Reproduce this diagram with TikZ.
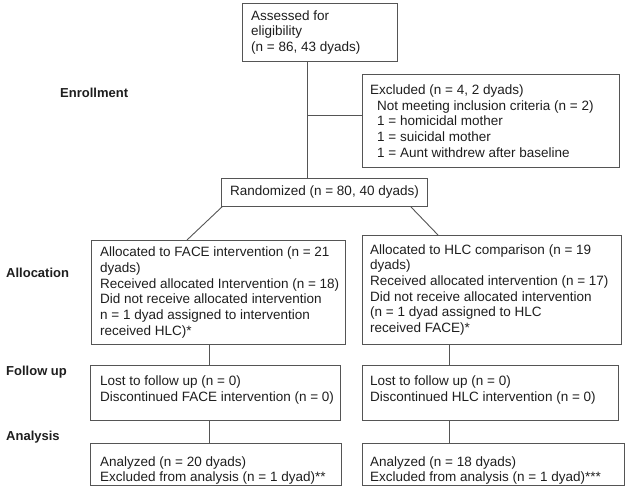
\documentclass[tikz,border=0pt]{standalone}
\usepackage{fontspec}
\setmainfont{Liberation Sans}
\definecolor{linec}{RGB}{85,85,85}
\definecolor{txtc}{RGB}{30,30,30}
\begin{document}
\begin{tikzpicture}[x=1pt,y=1pt,
  box/.style={draw=linec,line width=0.9pt,rectangle,inner sep=0pt,anchor=north west},
  txt/.style={anchor=west,align=left,inner sep=0pt,text=txtc,font=\fontsize{13.5}{15.7}\selectfont},
  ctxt/.style={anchor=center,align=center,inner sep=0pt,text=txtc,font=\fontsize{13.5}{15.7}\selectfont},
  lab/.style={anchor=west,inner sep=0pt,text=txtc,font=\bfseries\fontsize{13}{15}\selectfont},
  conn/.style={draw=linec,line width=0.9pt}]
\useasboundingbox (0,0) rectangle (635,-492);
% boxes
\node[box,minimum width=155pt,minimum height=58pt] (assess) at (242,-3) {};
\node[box,minimum width=257pt,minimum height=93pt] (excl) at (362,-74) {};
\node[box,minimum width=206pt,minimum height=28pt] (rand) at (221,-178) {};
\node[box,minimum width=254pt,minimum height=104pt] (allocL) at (91,-240) {};
\node[box,minimum width=259pt,minimum height=109pt] (allocR) at (362,-235) {};
\node[box,minimum width=250pt,minimum height=55pt] (followL) at (90,-365) {};
\node[box,minimum width=256pt,minimum height=55pt] (followR) at (362,-365) {};
\node[box,minimum width=251pt,minimum height=42pt] (analL) at (90,-443) {};
\node[box,minimum width=262pt,minimum height=42pt] (analR) at (362,-443) {};
% texts
\node[txt] (assesst) at ([xshift=9pt]assess.west) {Assessed for\\eligibility\\(n = 86, 43 dyads)};
\node[txt] (exclt) at ([xshift=8pt]excl.west) {Excluded (n = 4, 2 dyads)\\
\hspace*{7pt}Not meeting inclusion criteria (n = 2)\\
\hspace*{7pt}1 = homicidal mother\\
\hspace*{7pt}1 = suicidal mother\\
\hspace*{7pt}1 = Aunt withdrew after baseline};
\node[ctxt] (randt) at (rand.center) {Randomized (n = 80, 40 dyads)};
\node[txt] (allocLt) at ([xshift=9pt]allocL.west) {Allocated to FACE intervention (n = 21\\dyads)\\Received allocated Intervention (n = 18)\\Did not receive allocated intervention\\n = 1 dyad assigned to intervention\\received HLC)*};
\node[txt] (allocRt) at ([xshift=8pt]allocR.west) {Allocated to HLC comparison (n = 19\\dyads)\\Received allocated intervention (n = 17)\\Did not receive allocated intervention\\(n = 1 dyad assigned to HLC\\received FACE)*};
\node[txt] (followLt) at ([xshift=10pt,yshift=3pt]followL.west) {Lost to follow up (n = 0)\\Discontinued FACE intervention (n = 0)};
\node[txt] (followRt) at ([xshift=8pt,yshift=3pt]followR.west) {Lost to follow up (n = 0)\\Discontinued HLC intervention (n = 0)};
\node[txt] (analLt) at ([xshift=10pt,yshift=-6pt]analL.west) {Analyzed (n = 20 dyads)\\Excluded from analysis (n = 1 dyad)**};
\node[txt] (analRt) at ([xshift=8pt,yshift=-6pt]analR.west) {Analyzed (n = 18 dyads)\\Excluded from analysis (n = 1 dyad)***};
% stage labels
\node[lab] (enr) at (60,-93) {Enrollment};
\node[lab] (all) at (6,-273) {Allocation};
\node[lab] (fol) at (6,-372) {Follow up};
\node[lab] (ana) at (6,-437) {Analysis};
% connectors
\coordinate (trunk) at (307,-115);
\coordinate (colL) at (209,0);
\coordinate (colR) at (449,0);
\draw[conn] (assess.south -| trunk) -- (rand.north -| trunk);
\draw[conn] (trunk) -- (trunk -| excl.west);
\draw[conn] ([xshift=1pt]rand.south west) -- ([xshift=96pt]allocL.north west);
\draw[conn] ([xshift=-17pt]rand.south east) -- ([xshift=76pt]allocR.north west);
\draw[conn] (allocL.south -| colL) -- (followL.north -| colL);
\draw[conn] (followL.south -| colL) -- (analL.north -| colL);
\draw[conn] (allocR.south -| colR) -- (followR.north -| colR);
\draw[conn] (followR.south -| colR) -- (analR.north -| colR);
\end{tikzpicture}
\end{document}
